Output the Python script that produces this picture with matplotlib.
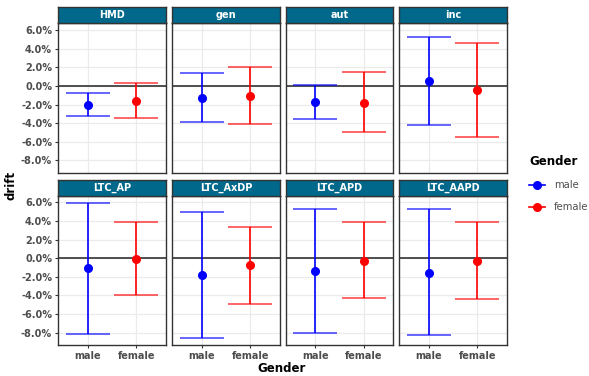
import matplotlib.pyplot as plt
from matplotlib.lines import Line2D
from matplotlib.ticker import FuncFormatter

panels = ["HMD", "gen", "aut", "inc", "LTC_AP", "LTC_AxDP", "LTC_APD", "LTC_AAPD"]
genders = ["male", "female"]

# drift estimates (%) and interval bounds
male_mean = [-2.0, -1.25, -1.75, 0.5, -1.05, -1.8, -1.4, -1.55]
male_low = [-3.2, -3.85, -3.6, -4.25, -8.1, -8.6, -8.05, -8.3]
male_high = [-0.75, 1.35, 0.15, 5.25, 5.95, 5.0, 5.25, 5.25]
female_mean = [-1.6, -1.05, -1.8, -0.4, -0.1, -0.75, -0.25, -0.25]
female_low = [-3.5, -4.1, -4.95, -5.45, -4.0, -4.9, -4.3, -4.4]
female_high = [0.3, 2.0, 1.45, 4.65, 3.9, 3.4, 3.85, 3.9]

colors = {"male": "#0000FF", "female": "#FF0000"}
strip_col = "#00688B"
W, H = 589, 376

fig = plt.figure(figsize=(W / 100, H / 100), dpi=100)

lefts = [58.3, 172.3, 286.0, 399.3]
pw = 107.3
rows = [(23.3, 172.7, 6.7), (195.7, 345.0, 180.0)]

ymin, ymax = -9.33, 6.73
fmt = FuncFormatter(lambda v, p: f"{v:.1f}%")

for i, name in enumerate(panels):
    r, c = divmod(i, 4)
    top, bot, stop = rows[r]
    x0 = lefts[c]
    ax = fig.add_axes([x0 / W, 1 - bot / H, pw / W, (bot - top) / H])
    ax.set_xlim(0.4, 2.6)
    ax.set_ylim(ymin, ymax)
    ax.set_yticks([6, 4, 2, 0, -2, -4, -6, -8])
    ax.yaxis.set_major_formatter(fmt)
    ax.set_xticks([1, 2])
    ax.grid(True, color="#EBEBEB", lw=0.9)
    ax.set_axisbelow(True)
    for s in ax.spines.values():
        s.set_color("#333333")
        s.set_linewidth(1.0)
    ax.axhline(0, color="#333333", lw=1.2, zorder=2)

    data = [
        (1, male_mean[i], male_low[i], male_high[i], colors["male"]),
        (2, female_mean[i], female_low[i], female_high[i], colors["female"]),
    ]
    for x, m, lo, hi, col in data:
        ax.vlines(x, lo, hi, color=col, lw=1.2, zorder=3)
        ax.hlines([lo, hi], x - 0.45, x + 0.45, color=col, lw=1.2, alpha=0.7, zorder=3)
        ax.plot(x, m, "o", color=col, ms=5.5, zorder=4)

    ax.tick_params(axis="both", length=2.5, width=0.8, color="#333333",
                   labelsize=7, labelcolor="#4D4D4D", pad=2)
    if c == 0:
        for lab in ax.get_yticklabels():
            lab.set_fontweight("bold")
    else:
        ax.tick_params(axis="y", labelleft=False, length=0)
    if r == 1:
        ax.set_xticklabels(genders, fontweight="bold")
    else:
        ax.tick_params(axis="x", labelbottom=False, length=0)

    sax = fig.add_axes([x0 / W, 1 - top / H, pw / W, (top - stop) / H])
    sax.set_facecolor(strip_col)
    sax.set_xticks([])
    sax.set_yticks([])
    for s in sax.spines.values():
        s.set_color("#333333")
        s.set_linewidth(1.0)
    sax.text(0.5, 0.5, name, color="white", fontsize=7, fontweight="bold",
             ha="center", va="center", transform=sax.transAxes)

fig.text(11 / W, 1 - 185 / H, "drift", rotation=90, fontsize=8.5,
         fontweight="bold", ha="center", va="center")
fig.text(282 / W, 1 - 369 / H, "Gender", fontsize=8.5,
         fontweight="bold", ha="center", va="center")

handles = [Line2D([], [], color=colors[g], marker="o", ms=5.5, lw=1.2) for g in genders]
leg = fig.legend(handles, genders, title="Gender", loc="upper left",
                 bbox_to_anchor=(520 / W, 1 - 146 / H), frameon=False,
                 fontsize=7.2, title_fontsize=8.5, handlelength=1.6,
                 labelspacing=1.2, alignment="left", handletextpad=0.9)
leg.get_title().set_fontweight("bold")
for t in leg.get_texts():
    t.set_color("#4D4D4D")

fig.savefig("out.png", dpi=100)
